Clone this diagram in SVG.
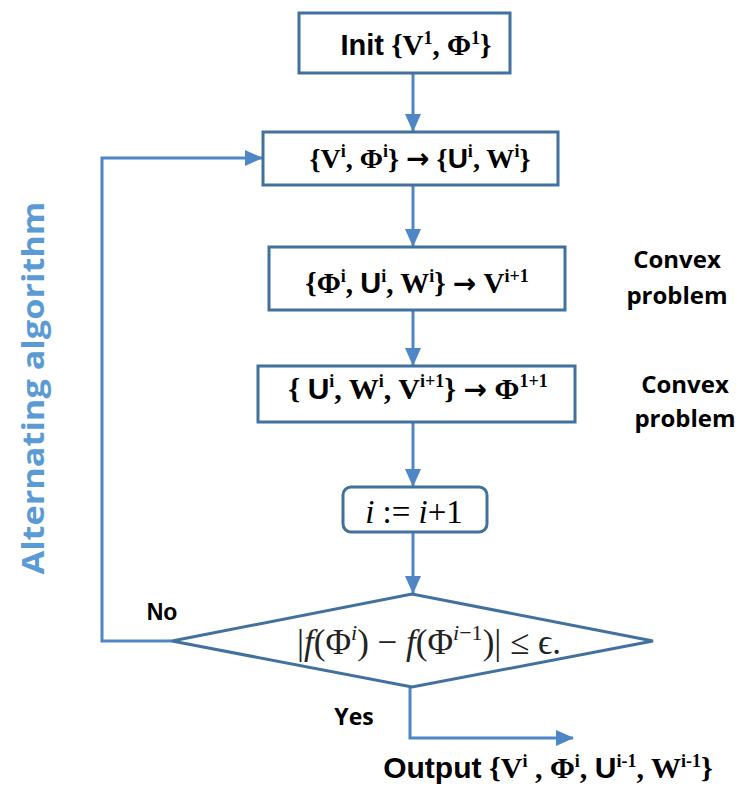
<svg xmlns="http://www.w3.org/2000/svg" width="744" height="794" viewBox="0 0 744 794">
<defs>
<style>
.box{fill:#fff;stroke:#41719c;stroke-width:3}
.con{fill:none;stroke:#4f86c6;stroke-width:3}
.t{font-family:"Liberation Serif",serif;font-weight:bold;font-size:28px;fill:#000;text-anchor:middle}
.s{font-family:"Liberation Sans",Arial,sans-serif}
.ar{font-family:"DejaVu Sans",sans-serif;font-size:28px}
.sup{font-size:18px}
.lab{font-family:"Open Sans","Liberation Sans",sans-serif;font-weight:bold;font-size:24px;fill:#000;text-anchor:middle}
.math{font-family:"Liberation Serif",serif;font-size:35px;fill:#222;text-anchor:middle}
</style>
<marker id="ah" markerUnits="userSpaceOnUse" markerWidth="18" markerHeight="16" refX="17" refY="8" orient="auto">
<path d="M0,0 L18,8 L0,16 z" fill="#4f86c6"/>
</marker>
</defs>
<g id="connectors">
<line class="con" x1="413" y1="73" x2="413" y2="131" marker-end="url(#ah)"/>
<line class="con" x1="413" y1="185" x2="413" y2="246" marker-end="url(#ah)"/>
<line class="con" x1="413" y1="310" x2="413" y2="365" marker-end="url(#ah)"/>
<line class="con" x1="413" y1="422" x2="413" y2="486" marker-end="url(#ah)"/>
<line class="con" x1="413" y1="532" x2="413" y2="593" marker-end="url(#ah)"/>
<polyline class="con" points="172,641 102,641 102,158 262,158" marker-end="url(#ah)"/>
<polyline class="con" points="410,687 410,738 573,738" marker-end="url(#ah)"/>
</g>
<g id="init">
<rect class="box" x="299" y="13" width="211" height="60"/>
<text class="t" x="416" y="55" style="font-size:29px"><tspan class="s">Init</tspan> {V<tspan class="sup" dy="-11">1</tspan><tspan dy="11">, Φ</tspan><tspan class="sup" dy="-11">1</tspan><tspan dy="11">}</tspan></text>
</g>
<g id="step1">
<rect class="box" x="263" y="132" width="295" height="53"/>
<text class="t" x="420" y="168">{V<tspan class="sup" dy="-11">i</tspan><tspan dy="11">, Φ</tspan><tspan class="sup" dy="-11">i</tspan><tspan dy="11">} </tspan><tspan class="ar">→</tspan> {<tspan class="s">U</tspan><tspan class="sup" dy="-11">i</tspan><tspan dy="11">, W</tspan><tspan class="sup" dy="-11">i</tspan><tspan dy="11">}</tspan></text>
</g>
<g id="step2">
<rect class="box" x="269" y="247" width="296" height="63"/>
<text class="t" x="417" y="293" style="font-size:29px">{Φ<tspan class="sup" dy="-11">i</tspan><tspan dy="11">, </tspan><tspan class="s">U</tspan><tspan class="sup" dy="-11">i</tspan><tspan dy="11">, W</tspan><tspan class="sup" dy="-11">i</tspan><tspan dy="11">} </tspan><tspan class="ar">→</tspan> V<tspan class="sup" dy="-11">i+1</tspan></text>
</g>
<g id="step3">
<rect class="box" x="258" y="366" width="317" height="56"/>
<text class="t" x="418" y="399" style="font-size:30px">{ <tspan class="s">U</tspan><tspan class="sup" dy="-12">i</tspan><tspan dy="12">, W</tspan><tspan class="sup" dy="-12">i</tspan><tspan dy="12">, V</tspan><tspan class="sup" dy="-12">i+1</tspan><tspan dy="12">} </tspan><tspan class="ar">→</tspan> Φ<tspan class="sup" dy="-12">1+1</tspan></text>
</g>
<g id="incr">
<rect class="box" x="343" y="487" width="144" height="45" rx="8"/>
<text x="414" y="523" style="font-family:'Liberation Serif',serif;font-style:italic;font-size:33px;fill:#000;text-anchor:middle">i <tspan font-style="normal">:=</tspan> i<tspan font-style="normal">+1</tspan></text>
</g>
<g id="check">
<polygon class="box" points="172,641 412,594 653,641 412,687"/>
<text class="math" x="429" y="654"><tspan font-style="normal">|</tspan><tspan font-style="italic">f</tspan>(Φ<tspan font-style="italic" font-size="22" dy="-14">i</tspan><tspan dy="14">) − </tspan><tspan font-style="italic">f</tspan>(Φ<tspan font-size="22" dy="-14"><tspan font-style="italic">i</tspan>−1</tspan><tspan dy="14">)| ≤ ϵ.</tspan></text>
</g>
<g id="labels">
<text class="lab" x="677" y="268">Convex</text>
<text class="lab" x="677" y="304">problem</text>
<text class="lab" x="685" y="393">Convex</text>
<text class="lab" x="685" y="427">problem</text>
<text class="lab" x="162" y="620" style="font-family:'Liberation Sans',sans-serif;font-size:23px">No</text>
<text class="lab" x="354" y="725" style="font-family:'Open Sans','Liberation Sans',sans-serif;font-size:23px">Yes</text>
<text transform="translate(44,388) rotate(-90)" style="font-family:'Open Sans','Liberation Sans',sans-serif;font-weight:bold;font-size:31px;fill:#5b9bd5;text-anchor:middle" textLength="373" lengthAdjust="spacingAndGlyphs">Alternating algorithm</text>
</g>
<g id="output">
<text class="t" x="548" y="778" style="font-size:30px"><tspan class="s">Output</tspan> {V<tspan class="sup" dy="-11">i</tspan><tspan dy="11"> , Φ</tspan><tspan class="sup" dy="-11">i</tspan><tspan dy="11">, </tspan><tspan class="s">U</tspan><tspan class="sup" dy="-11">i-1</tspan><tspan dy="11">, W</tspan><tspan class="sup" dy="-11">i-1</tspan><tspan dy="11">}</tspan></text>
</g>
</svg>
